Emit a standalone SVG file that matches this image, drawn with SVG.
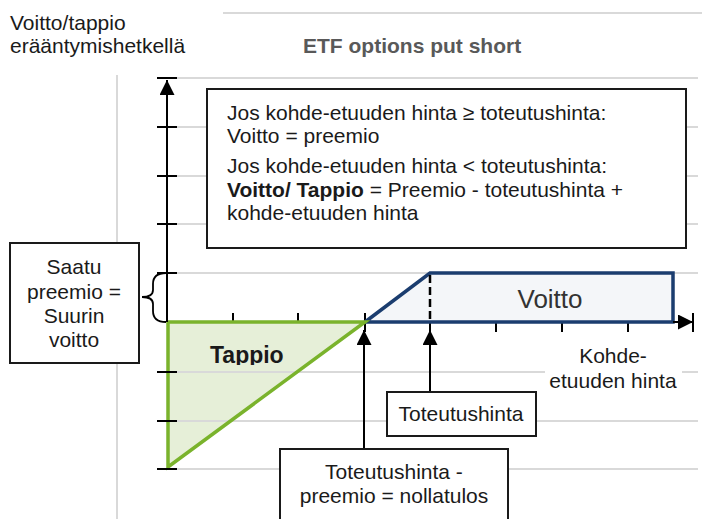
<svg xmlns="http://www.w3.org/2000/svg" width="702" height="519" viewBox="0 0 702 519">
<defs>
<style>
.t{font-family:"Liberation Sans",Arial,sans-serif;font-size:21px;fill:#1a1a1a}
.c{text-anchor:middle}
.grid{stroke:#d9d9d9;stroke-width:2;fill:none}
.ax{stroke:#000;stroke-width:2;fill:none}
.tick{stroke:#000;stroke-width:2}
.box{fill:#fff;stroke:#1a1a1a;stroke-width:2}
.con{stroke:#000;stroke-width:2;fill:none;marker-end:url(#ah)}
</style>
<marker id="ah" viewBox="0 0 15 15" refX="15" refY="7.5" markerWidth="15" markerHeight="15" markerUnits="userSpaceOnUse" orient="auto">
<path d="M0,0 L15,7.5 L0,15 Z" fill="#000"/>
</marker>
<clipPath id="tapclip"><rect x="180" y="330" width="150" height="35"/></clipPath>
</defs>

<g id="background">
<line class="grid" x1="223" y1="13" x2="702" y2="13"/>
<line class="grid" x1="117" y1="75" x2="117" y2="519"/>
</g>

<g id="xticks">
<line class="tick" x1="233" y1="313" x2="233" y2="332"/>
<line class="tick" x1="298" y1="313" x2="298" y2="332"/>
<line class="tick" x1="365" y1="313" x2="365" y2="332"/>
<line class="tick" x1="430" y1="313" x2="430" y2="332"/>
<line class="tick" x1="496" y1="313" x2="496" y2="332"/>
<line class="tick" x1="562" y1="313" x2="562" y2="332"/>
<line class="tick" x1="628" y1="313" x2="628" y2="332"/>
</g>

<g id="tappio-fill">
<polygon points="168,322 365,322 168,467" fill="#e6efd8"/>
</g>

<g id="gridlines">
<line class="grid" x1="168" y1="78" x2="698" y2="78"/>
<line class="grid" x1="168" y1="127" x2="698" y2="127"/>
<line class="grid" x1="168" y1="176" x2="698" y2="176"/>
<line class="grid" x1="168" y1="224" x2="698" y2="224"/>
<line class="grid" x1="168" y1="273" x2="698" y2="273"/>
<line class="grid" x1="168" y1="372" x2="698" y2="372"/>
<line class="grid" x1="168" y1="421" x2="698" y2="421"/>
<line class="grid" x1="168" y1="469" x2="698" y2="469"/>
</g>

<g id="voitto">
<polygon points="365,322 430,273 673,273 673,322" fill="#f4f6f9" stroke="#1b3d6f" stroke-width="3.5" stroke-linejoin="miter"/>
<line x1="430" y1="275" x2="430" y2="322" stroke="#000" stroke-width="2.5" stroke-dasharray="8,4"/>
<text class="t c" x="550" y="308" style="font-size:26px;fill:#333">Voitto</text>
</g>

<g id="tappio">
<polygon points="168,322 365,322 168,467" fill="none" stroke="#7ab32c" stroke-width="3.5" stroke-linejoin="miter"/>
<text class="t" x="210" y="363" clip-path="url(#tapclip)" style="font-weight:bold;font-size:23px">Tappio</text>
</g>

<g id="axes">
<line class="ax" x1="167" y1="322" x2="167" y2="80" style="marker-end:url(#ah)"/>
<line class="tick" x1="157" y1="78" x2="177" y2="78"/>
<line class="tick" x1="157" y1="127" x2="177" y2="127"/>
<line class="tick" x1="157" y1="176" x2="177" y2="176"/>
<line class="tick" x1="157" y1="224" x2="177" y2="224"/>
<line class="tick" x1="157" y1="273" x2="177" y2="273"/>
<line class="tick" x1="157" y1="372" x2="177" y2="372"/>
<line class="tick" x1="157" y1="421" x2="177" y2="421"/>
<line class="tick" x1="157" y1="469" x2="177" y2="469"/>
<line class="ax" x1="673" y1="322" x2="693" y2="322" style="marker-end:url(#ah)"/>
<line class="tick" x1="693" y1="313" x2="693" y2="332"/>
</g>

<g id="connectors">
<line class="con" x1="364" y1="449" x2="364" y2="330"/>
<line class="con" x1="430" y1="392" x2="430" y2="330"/>
<path d="M166,273 Q153,273 153,284 L153,290 Q153,297 142,297 Q153,297 153,304 L153,311 Q153,322 166,322" fill="none" stroke="#000" stroke-width="1.8"/>
</g>

<g id="title">
<text class="t" x="10" y="30">Voitto/tappio</text>
<text class="t" x="10" y="53">erääntymishetkellä</text>
<text class="t" x="303" y="53" style="font-weight:bold;fill:#595959">ETF options put short</text>
</g>

<g id="info">
<rect class="box" x="207" y="89" width="479" height="159"/>
<text class="t" x="227" y="120">Jos kohde-etuuden hinta ≥ toteutushinta:</text>
<text class="t" x="227" y="143">Voitto = preemio</text>
<text class="t" x="227" y="173">Jos kohde-etuuden hinta &lt; toteutushinta:</text>
<text class="t" x="227" y="197"><tspan style="font-weight:bold">Voitto/ Tappio</tspan> = Preemio - toteutushinta +</text>
<text class="t" x="227" y="220">kohde-etuuden hinta</text>
</g>

<g id="saatu">
<rect class="box" x="10" y="243" width="129" height="120"/>
<text class="t c" x="74" y="274">Saatu</text>
<text class="t c" x="74" y="299">preemio =</text>
<text class="t c" x="74" y="323">Suurin</text>
<text class="t c" x="74" y="347">voitto</text>
</g>

<g id="kohde">
<rect x="545" y="366" width="137" height="10" fill="#fff"/>
<text class="t c" x="613" y="363">Kohde-</text>
<text class="t c" x="613" y="388">etuuden hinta</text>
</g>

<g id="toteutushinta">
<rect class="box" x="387" y="392" width="149" height="44"/>
<text class="t c" x="461" y="421">Toteutushinta</text>
</g>

<g id="nollatulos">
<rect class="box" x="280" y="449" width="228" height="80"/>
<text class="t c" x="394" y="479">Toteutushinta -</text>
<text class="t c" x="394" y="503">preemio = nollatulos</text>
</g>
</svg>
